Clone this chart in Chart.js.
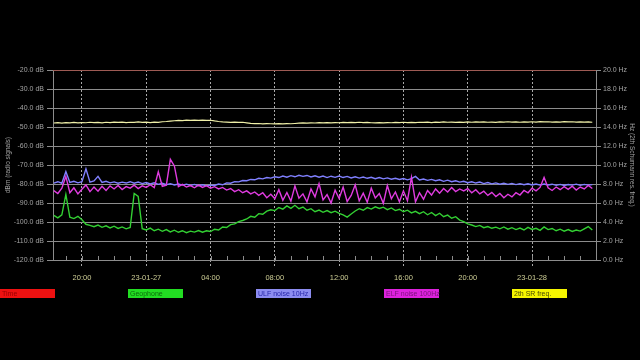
<!DOCTYPE html>
<html>
<head>
<meta charset="utf-8">
<script src="https://cdn.jsdelivr.net/npm/chart.js@4.4.0/dist/chart.umd.min.js"></script>
<style>
  html, body { margin: 0; padding: 0; background: #000; }
  canvas { display: block; }
</style>
</head>
<body>
<canvas id="chart" width="640" height="360"></canvas>
<script>
// one reading every 15 min, first one at 18:15 on 23-01-26 (x = hours since 26th 00:00)
const startHour = 18.25;
const stepHour = 0.25;

const xTickHours = [20, 24, 28, 32, 36, 40, 44, 48];
const xTickLabels = ['20:00', '23-01-27', '04:00', '08:00', '12:00', '16:00', '20:00', '23-01-28'];

const seriesNames = ['Time', 'Geophone', 'ULF noise 10Hz', 'ELF noise 100Hz', '2th SR freq.'];

// Time marker (top of the dB scale)
const timeHours = [18.2, 51.98];
const timeLine = [-20, -20];

// Geophone, dBm
const geophone = [
  -96.5, -97.8, -96.2, -85.5, -97.5, -98.2, -97.0, -98.8, -101.2, -101.8,
  -102.5, -101.6, -102.8, -102.0, -103.1, -102.2, -103.4, -102.6, -103.6, -102.9,
  -85.0, -86.5, -103.5, -104.2, -103.2, -104.6, -103.8, -104.9, -104.0, -105.2,
  -104.3, -105.4, -104.6, -105.6, -104.8, -105.3, -104.5, -105.4, -104.6, -105.0,
  -103.8, -104.2, -102.6, -102.9, -101.4, -101.0, -99.8, -99.2, -98.4, -97.0,
  -97.5, -95.6, -95.9, -94.3, -93.6, -94.0, -92.4, -93.2, -91.5, -92.8,
  -91.2, -93.0, -92.1, -93.8, -93.0, -94.6, -93.7, -94.9, -94.0, -95.1,
  -94.3, -95.5, -96.2, -97.4, -95.8, -94.2, -93.0, -93.8, -92.4, -93.2,
  -92.0, -92.9, -92.2, -93.5, -92.6, -94.0, -93.3, -94.6, -93.8, -95.2,
  -94.4, -95.6, -94.6, -96.2, -95.0, -96.6, -95.4, -97.2, -96.4, -98.0,
  -97.2, -99.0, -99.8, -101.0, -101.6, -102.4, -101.8, -103.0, -102.4, -103.3,
  -102.7, -103.6, -102.6, -103.8, -103.0, -104.0, -103.2, -104.2, -102.8, -103.9,
  -103.3, -104.4, -102.6, -104.0, -103.4, -104.6, -103.8, -104.8, -104.0, -105.0,
  -104.2, -104.8, -103.6, -102.4, -104.2
];

// ULF noise 10Hz, dBm
const ulfNoise = [
  -79.5, -78.8, -79.6, -73.5, -79.2, -78.6, -79.4, -78.8, -72.0, -79.0,
  -78.4, -76.0, -79.2, -78.6, -79.4, -78.9, -79.6, -79.0, -79.5, -78.8,
  -79.6, -79.0, -79.8, -79.2, -80.0, -79.4, -80.2, -79.6, -80.4, -79.8,
  -80.5, -80.0, -80.6, -80.1, -80.8, -80.2, -80.9, -80.4, -81.0, -80.6,
  -80.8, -80.0, -80.4, -79.4, -79.6, -78.8, -78.9, -78.2, -78.3, -77.6,
  -77.8, -77.0, -77.3, -76.6, -76.9, -76.2, -76.6, -75.8, -76.4, -75.6,
  -76.2, -75.4, -76.0, -75.5, -76.3, -75.7, -76.4, -75.8, -76.6, -75.9,
  -76.5, -75.8, -76.6, -76.0, -76.8, -76.2, -76.9, -76.3, -77.0, -76.5,
  -77.2, -76.6, -77.3, -76.8, -77.5, -77.0, -77.6, -77.1, -77.8, -77.2,
  -76.0, -77.9, -77.4, -78.1, -77.6, -78.3, -77.8, -78.6, -78.0, -78.8,
  -78.3, -79.0, -78.6, -79.3, -78.8, -79.5, -79.0, -79.8, -79.2, -79.9,
  -79.4, -80.1, -79.6, -80.2, -79.7, -80.3, -79.8, -80.4, -79.9, -80.5,
  -80.0, -80.6, -80.0, -80.5, -80.1, -80.7, -80.2, -80.8, -80.3, -80.6,
  -80.1, -80.7, -80.2, -80.6, -80.3
];

// ELF noise 100Hz, dBm
const elfNoise = [
  -83.5, -85.0, -82.2, -76.0, -84.6, -82.0, -85.2, -82.8, -80.5, -84.0,
  -81.6, -83.8, -81.2, -83.4, -81.0, -82.6, -80.8, -82.9, -81.4, -82.2,
  -80.6, -82.4, -81.0, -81.8, -80.4, -81.9, -73.5, -81.2, -80.6, -67.0,
  -70.5, -81.4, -80.2, -81.6, -80.8, -82.0, -80.6, -81.8, -80.9, -82.2,
  -81.4, -82.6, -81.8, -83.2, -82.4, -84.0, -83.0, -84.6, -83.6, -85.2,
  -84.2, -86.0, -84.6, -87.2, -85.4, -87.8, -83.0, -88.6, -84.5, -89.0,
  -81.0, -87.5, -85.2, -89.4, -82.6, -86.8, -79.8, -88.4, -85.6, -90.0,
  -83.2, -87.6, -81.6, -89.2, -86.0, -80.4, -88.8, -84.8, -89.6, -82.2,
  -87.4, -85.0, -90.2, -80.8, -87.8, -84.2, -89.4, -83.6, -88.8, -76.5,
  -89.4, -84.6, -88.0, -83.4, -85.8, -82.6, -84.8, -82.4, -84.2, -81.8,
  -84.0, -82.6, -83.6, -82.4, -84.6, -83.0, -85.2, -83.8, -86.0, -84.4,
  -86.6, -85.0, -87.2, -85.4, -86.8, -84.6, -85.8, -83.4, -84.6, -82.2,
  -83.6, -81.8, -76.5, -82.0, -83.4, -81.6, -83.0, -81.4, -82.8, -81.2,
  -83.2, -81.6, -82.6, -80.8, -82.4
];

// 2nd Schumann resonance frequency, Hz (right axis)
const srFreq = [
  14.42, 14.45, 14.40, 14.46, 14.44, 14.48, 14.43, 14.47, 14.45, 14.50,
  14.46, 14.49, 14.44, 14.50, 14.47, 14.52, 14.48, 14.51, 14.46, 14.50,
  14.48, 14.53, 14.49, 14.52, 14.47, 14.51, 14.49, 14.55, 14.58, 14.62,
  14.66, 14.70, 14.68, 14.72, 14.70, 14.73, 14.69, 14.72, 14.70, 14.71,
  14.64, 14.58, 14.54, 14.52, 14.49, 14.51, 14.48, 14.50, 14.44, 14.38,
  14.35, 14.37, 14.33, 14.36, 14.34, 14.32, 14.35, 14.33, 14.36, 14.34,
  14.37, 14.40, 14.43, 14.41, 14.44, 14.42, 14.45, 14.43, 14.46, 14.44,
  14.47, 14.45, 14.48, 14.46, 14.49, 14.47, 14.50, 14.46, 14.48, 14.45,
  14.43, 14.46, 14.44, 14.47, 14.45, 14.48, 14.46, 14.50, 14.47, 14.49,
  14.46, 14.50, 14.48, 14.51, 14.47, 14.52, 14.49, 14.53, 14.50, 14.52,
  14.48, 14.51, 14.49, 14.53, 14.50, 14.54, 14.51, 14.53, 14.50, 14.52,
  14.49, 14.53, 14.51, 14.55, 14.52, 14.54, 14.50, 14.53, 14.51, 14.55,
  14.52, 14.56, 14.53, 14.55, 14.51, 14.54, 14.52, 14.56, 14.53, 14.55,
  14.52, 14.54, 14.51, 14.53, 14.50
];

const toPoints = vals => vals.map((v, i) => ({ x: startHour + i * stepHour, y: v }));

const gridGray = '#8c8c8c';
const labelGray = '#a2a2a2';

Chart.defaults.font.family = '"Liberation Sans", Arial, sans-serif';

// hourly inner ticks + colour-box legend under the chart
const extras = {
  id: 'extras',
  afterDraw(chart) {
    const ctx = chart.ctx;
    const xs = chart.scales.x;
    const area = chart.chartArea;
    ctx.save();
    ctx.strokeStyle = gridGray;
    ctx.lineWidth = 1;
    xs.ticks.forEach(t => {
      const px = Math.round(xs.getPixelForValue(t.value)) + 0.5;
      ctx.beginPath();
      ctx.moveTo(px, area.bottom);
      ctx.lineTo(px, area.bottom - 4);
      ctx.stroke();
    });
    const slot = chart.width / chart.data.datasets.length;
    ctx.font = '7px "Liberation Sans", Arial, sans-serif';
    ctx.textBaseline = 'middle';
    ctx.textAlign = 'left';
    chart.data.datasets.forEach((ds, i) => {
      const x = Math.round(i * slot);
      ctx.fillStyle = ds.boxColor;
      ctx.fillRect(x, 289, 55, 9);
      ctx.fillStyle = ds.boxText;
      ctx.fillText(ds.label, x + 2, 294);
    });
    ctx.restore();
  }
};

const lineStyle = { pointRadius: 0, borderWidth: 1.4, tension: 0, fill: false };

new Chart(document.getElementById('chart'), {
  type: 'line',
  data: {
    datasets: [
      { ...lineStyle, borderWidth: 1, label: seriesNames[0], data: timeLine.map((v, i) => ({ x: timeHours[i], y: v })),
        borderColor: '#b02a1c', boxColor: '#ee1111', boxText: '#990000', yAxisID: 'y', order: 0 },
      { ...lineStyle, label: seriesNames[1], data: toPoints(geophone),
        borderColor: '#33d033', boxColor: '#22dd22', boxText: '#0b6b0b', yAxisID: 'y', order: 3 },
      { ...lineStyle, label: seriesNames[2], data: toPoints(ulfNoise),
        borderColor: '#8080ff', boxColor: '#8c8cf0', boxText: '#2626a8', yAxisID: 'y', order: 2 },
      { ...lineStyle, label: seriesNames[3], data: toPoints(elfNoise),
        borderColor: '#e03ce0', boxColor: '#dd22dd', boxText: '#7a127a', yAxisID: 'y', order: 1 },
      { ...lineStyle, borderWidth: 1.2, label: seriesNames[4], data: toPoints(srFreq),
        borderColor: '#f0f0a8', boxColor: '#f5f500', boxText: '#4a4a00', yAxisID: 'y1', order: 4 }
    ]
  },
  options: {
    responsive: false,
    animation: false,
    layout: { padding: { top: 70, left: 0, right: 0, bottom: 0 } },
    plugins: { legend: { display: false }, tooltip: { enabled: false } },
    scales: {
      x: {
        type: 'linear',
        min: 18.2,
        max: 51.98,
        afterBuildTicks: s => {
          const t = [];
          for (let h = Math.ceil(s.min); h <= s.max; h++) t.push({ value: h });
          s.ticks = t;
        },
        afterFit: s => { s.height = 100; },
        grid: {
          color: c => xTickHours.includes(c.tick && c.tick.value) ? '#a8a8a8' : 'rgba(0,0,0,0)',
          tickColor: c => xTickHours.includes(c.tick && c.tick.value) ? '#a8a8a8' : 'rgba(0,0,0,0)',
          tickLength: 8,
          tickBorderDash: [2, 2]
        },
        border: { display: false, dash: [2, 2] },
        ticks: {
          autoSkip: false,
          maxRotation: 0,
          padding: 5,
          color: '#cdcd95',
          font: { size: 7.5 },
          callback: v => {
            const k = xTickHours.indexOf(v);
            return k < 0 ? '' : xTickLabels[k];
          }
        }
      },
      y: {
        position: 'left',
        min: -120,
        max: -20,
        afterFit: s => { s.width = 53; },
        grid: { color: gridGray, tickColor: gridGray, tickLength: 6 },
        border: { color: gridGray },
        ticks: { stepSize: 10, padding: 3, color: labelGray, font: { size: 7 },
          callback: v => v.toFixed(1) + ' dB' },
        title: { display: true, text: 'dBm (radio signals)', color: labelGray,
          font: { size: 6.5 }, padding: { top: 4, bottom: 4 } }
      },
      y1: {
        position: 'right',
        min: 0,
        max: 20,
        afterFit: s => { s.width = 44; },
        grid: { drawOnChartArea: false, color: gridGray, tickColor: gridGray, tickLength: 5 },
        border: { color: gridGray },
        ticks: { stepSize: 2, padding: 2, color: labelGray, font: { size: 7 },
          callback: v => v.toFixed(1) + ' Hz' },
        title: { display: true, text: 'Hz (2th Schumann res. freq.)', color: labelGray,
          font: { size: 6.5 }, padding: { top: 4, bottom: 4 } }
      }
    }
  },
  plugins: [extras]
});
</script>
</body>
</html>
